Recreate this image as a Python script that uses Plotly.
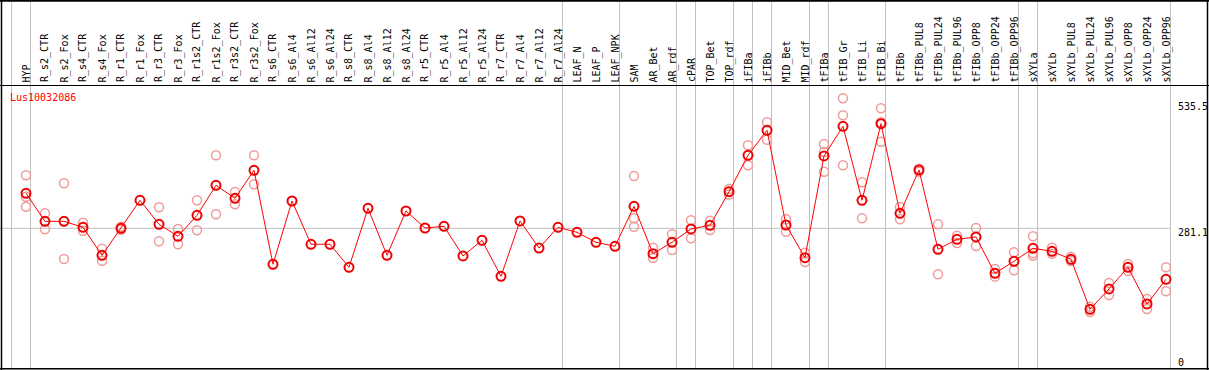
import plotly.graph_objects as go

categories = ["HYP", "R_s2_CTR", "R_s2_Fox", "R_s4_CTR", "R_s4_Fox", "R_r1_CTR", "R_r1_Fox",
              "R_r3_CTR", "R_r3_Fox", "R_r1s2_CTR", "R_r1s2_Fox", "R_r3s2_CTR", "R_r3s2_Fox",
              "R_s6_CTR", "R_s6_Al4", "R_s6_Al12", "R_s6_Al24", "R_s8_CTR", "R_s8_Al4",
              "R_s8_Al12", "R_s8_Al24", "R_r5_CTR", "R_r5_Al4", "R_r5_Al12", "R_r5_Al24",
              "R_r7_CTR", "R_r7_Al4", "R_r7_Al12", "R_r7_Al24", "LEAF_N", "LEAF_P", "LEAF_NPK",
              "SAM", "AR_Bet", "AR_rdf", "cPAR", "TOP_Bet", "TOP_rdf", "iFIBa", "iFIBb",
              "MID_Bet", "MID_rdf", "tFIBa", "tFIB_Gr", "tFIB_Li", "tFIB_Bi", "tFIBb",
              "tFIBb_PUL8", "tFIBb_PUL24", "tFIBb_PUL96", "tFIBb_OPP8", "tFIBb_OPP24",
              "tFIBb_OPP96", "sXYLa", "sXYLb", "sXYLb_PUL8", "sXYLb_PUL24", "sXYLb_PUL96",
              "sXYLb_OPP8", "sXYLb_OPP24", "sXYLb_OPP96"]

means = [351.5, 295.1, 295.1, 283.0, 226.7, 281.1, 337.4, 289.1, 265.0, 307.2, 367.6, 341.4,
         397.8, 208.7, 336.0, 248.9, 248.9, 202.6, 321.3, 226.7, 315.9, 281.7, 285.1, 225.4,
         256.9, 184.5, 295.8, 241.4, 283.0, 273.0, 252.9, 244.9, 325.3, 230.0, 252.9, 279.7,
         287.1, 354.7, 428.0, 478.3, 287.7, 222.0, 426.6, 486.3, 337.4, 491.6, 311.2, 398.4,
         238.8, 258.9, 263.6, 190.5, 214.7, 240.8, 234.8, 218.7, 118.1, 159.0, 202.6, 128.8,
         178.5]

N = None
rep_a = [387.7, 311.2, 371.6, 292.4, 240.1, 284.0, N, 323.3, 279.7, 337.4, 428.0, 354.1,
         428.0, N, N, N, N, N, N, N, N, N, N, N, N, N, N, N, N, N, N, N,
         386.3, 242.1, 269.0, 297.2, 296.4, 360.0, 448.1, 494.4, 299.2, 232.0, 450.7, 542.6,
         373.6, 522.5, 323.9, 401.0, 289.1, 266.2, 281.7, 199.2, 232.8, 265.0, 242.1, 224.0,
         123.4, 171.0, 209.3, 138.8, 202.6]
rep_b = [344.7, 279.0, 219.3, 276.3, 215.9, 278.0, N, 254.9, 248.9, 277.0, 309.3, 329.4,
         369.6, N, N, N, N, N, N, N, N, N, N, N, N, N, N, N, N, N, N, N,
         301.2, 221.3, 237.4, 261.0, 277.7, 349.0, 407.8, 459.4, 274.2, 213.3, 434.6, 508.4,
         301.2, 494.4, 299.2, 395.0, 188.5, 251.5, 245.5, 183.8, 196.6, 230.8, 230.0, 215.3,
         112.7, 146.9, 195.2, 118.7, 154.3]
rep_c = [324.6, N, N, N, N, N, N, N, N, N, N, N, N, N, N, N, N, N, N, N, N, N, N, N, N,
         N, N, N, N, N, N, N, 284.3, N, N, N, N, N, N, N, N, N, 395.0, 407.8, N, 455.3,
         N, N, N, N, N, N, N, 226.0, N, N, N, N, N, N, N]

separators_after = [-1, 0, 28, 31, 34, 35, 37, 38, 39, 41, 42, 45, 52, 53, 60]
gene = "Lus10032086"
y_ticks = ["535.5", "281.1", "0"]

W, H = 1209, 370
X0, DX = 26.0, 19.0
FONT = "DejaVu Sans Mono"

def px(x):
    return x / W

def py(y):
    return 1 - y / H

xs = list(range(len(categories)))
fig = go.Figure()

rx, ry = [], []
for arr in (rep_a, rep_b, rep_c):
    for i, v in enumerate(arr):
        if v is not None:
            rx.append(i)
            ry.append(v)

fig.add_trace(go.Scatter(x=rx, y=ry, mode="markers",
                         marker=dict(symbol="circle-open", size=9, color="#f09a9a",
                                     line=dict(width=1.5, color="#f09a9a")),
                         hoverinfo="skip", showlegend=False))
fig.add_trace(go.Scatter(x=xs, y=means, mode="lines+markers",
                         line=dict(color="#ff0000", width=1),
                         marker=dict(symbol="circle-open", size=9, color="#ee0000",
                                     line=dict(width=2, color="#ee0000")),
                         hoverinfo="skip", showlegend=False))

shapes = []
for i in separators_after:
    xpix = X0 + DX * i + 4.5
    shapes.append(dict(type="line", xref="paper", yref="paper", x0=px(xpix), x1=px(xpix),
                       y0=py(0), y1=py(368), line=dict(color="#c0c0c0", width=1), layer="below"))
shapes.append(dict(type="line", xref="paper", yref="y", x0=0, x1=px(1170), y0=281.1, y1=281.1,
                   line=dict(color="#c0c0c0", width=1), layer="below"))
shapes.append(dict(type="line", xref="paper", yref="paper", x0=0, x1=1, y0=py(0.8), y1=py(0.8),
                   line=dict(color="black", width=2)))
shapes.append(dict(type="line", xref="paper", yref="paper", x0=0, x1=1, y0=py(85.5), y1=py(85.5),
                   line=dict(color="black", width=1)))
shapes.append(dict(type="line", xref="paper", yref="paper", x0=0, x1=1, y0=py(368.8), y1=py(368.8),
                   line=dict(color="black", width=1.5)))
shapes.append(dict(type="line", xref="paper", yref="paper", x0=px(1.5), x1=px(1.5), y0=0, y1=1,
                   line=dict(color="black", width=1.5)))
shapes.append(dict(type="line", xref="paper", yref="paper", x0=px(1207.5), x1=px(1207.5), y0=0, y1=1,
                   line=dict(color="black", width=1.5)))

annotations = []
for i, c in enumerate(categories):
    annotations.append(dict(x=i, xref="x", y=py(83.5), yref="paper", text=c, textangle=-90,
                            showarrow=False, xanchor="center", yanchor="bottom",
                            font=dict(family=FONT, size=10, color="black"), borderpad=0))
annotations.append(dict(x=px(9), xref="paper", y=py(97.5), yref="paper", text=gene,
                        showarrow=False, xanchor="left", yanchor="middle",
                        font=dict(family=FONT, size=10, color="#ff0000"), borderpad=0))
for t, ypix in zip(y_ticks, [107, 232, 362]):
    annotations.append(dict(x=px(1177), xref="paper", y=py(ypix), yref="paper", text=t,
                            showarrow=False, xanchor="left", yanchor="middle",
                            font=dict(family=FONT, size=10, color="black"), borderpad=0))

fig.update_layout(
    width=W, height=H,
    margin=dict(l=0, r=0, t=0, b=0),
    paper_bgcolor="white", plot_bgcolor="white",
    xaxis=dict(visible=False, range=[-X0 / DX, (W - X0) / DX]),
    yaxis=dict(visible=False, range=[-4.02, 740.4]),
    shapes=shapes, annotations=annotations,
)

fig.write_html("out.html", config={"displayModeBar": False},
               post_script="document.body.style.margin='0';document.body.style.overflow='hidden';")
